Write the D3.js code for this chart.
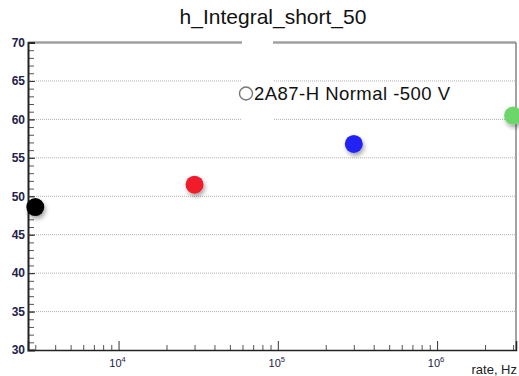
<!DOCTYPE html>
<html>
<head>
<meta charset="utf-8">
<script src="https://cdn.jsdelivr.net/npm/d3@7"></script>
<style>
  html, body { margin: 0; padding: 0; background: #fff; }
  svg { display: block; font-family: "Liberation Sans", Arial, Helvetica, sans-serif; }
</style>
</head>
<body>
<svg id="chart" width="519" height="376"></svg>
<script>
// Measured rates (Hz) and integral values
const rates = [3000, 30000, 300000, 3000000];
const integrals = [48.6, 51.5, 56.8, 60.5];
const pointColors = ["#000000", "#f01a2c", "#2323f5", "#6cd66a"];
const yTicks = [30, 35, 40, 45, 50, 55, 60, 65, 70];
const xDecades = [4, 5, 6];
const chartTitle = "h_Integral_short_50";
const legendLabel = "2A87-H Normal -500 V";
const xTitle = "rate, Hz";

const svg = d3.select("#chart");
const plotLeft = 28, plotRight = 516, plotTop = 42.5, plotBottom = 350;

const x = d3.scaleLog().domain([2700, 3130000]).range([plotLeft, plotRight]);
const y = d3.scaleLinear().domain([30, 70]).range([plotBottom, plotTop]);

// soft drop shadow under the markers
const defs = svg.append("defs");
const f = defs.append("filter").attr("id", "shadow")
  .attr("x", "-50%").attr("y", "-50%").attr("width", "200%").attr("height", "200%");
f.append("feDropShadow").attr("dx", 1.5).attr("dy", 3).attr("stdDeviation", 2)
  .attr("flood-color", "#000").attr("flood-opacity", 0.35);

// title
svg.append("text").attr("x", 273).attr("y", 24).attr("text-anchor", "middle")
  .attr("font-size", 21).attr("fill", "#111").text(chartTitle);

// horizontal dotted grid
svg.append("g").selectAll("line").data(yTicks.filter(v => v > 30 && v < 70)).join("line")
  .attr("x1", plotLeft).attr("x2", plotRight)
  .attr("y1", d => y(d)).attr("y2", d => y(d))
  .attr("stroke", "#b0b0b0").attr("stroke-width", 1).attr("stroke-dasharray", "1,1");

// top edge (grey) and right edge
svg.append("line").attr("x1", plotLeft).attr("x2", plotRight).attr("y1", y(70)).attr("y2", y(70))
  .attr("stroke", "#a0a0a0").attr("stroke-width", 2.5);
svg.append("line").attr("x1", plotRight).attr("x2", plotRight).attr("y1", y(70)).attr("y2", y(30))
  .attr("stroke", "#666").attr("stroke-width", 1.2);

// y axis: major + minor ticks pointing inward
const yMinor = d3.range(30, 71, 1);
svg.append("g").attr("transform", `translate(${plotLeft},0)`)
  .call(d3.axisLeft(y).tickValues(yMinor).tickSize(-6).tickFormat(""))
  .call(g => g.select(".domain").remove())
  .call(g => g.selectAll("line").attr("stroke", "#555"));
const yAxisG = svg.append("g").attr("transform", `translate(${plotLeft},0)`)
  .call(d3.axisLeft(y).tickValues(yTicks).tickSize(-7).tickPadding(3).tickFormat(d3.format("d")));
yAxisG.select(".domain").attr("stroke", "#222").attr("stroke-width", 2);
yAxisG.selectAll(".tick line").attr("stroke", "#333");
yAxisG.selectAll(".tick text").attr("font-size", 12).attr("font-weight", "bold").attr("fill", "#22224a")
  .attr("font-family", "\"Liberation Sans\", Arial, sans-serif");

// x axis: log ticks pointing inward
const xMajor = xDecades.map(e => Math.pow(10, e));
const xMinor = [];
for (let e = 3; e <= 6; e++) for (let m = 2; m <= 9; m++) {
  const v = m * Math.pow(10, e);
  if (v >= x.domain()[0] && v <= x.domain()[1]) xMinor.push(v);
}
svg.append("g").attr("transform", `translate(0,${plotBottom})`)
  .call(d3.axisBottom(x).tickValues(xMinor).tickSize(-5).tickFormat(""))
  .call(g => g.select(".domain").remove())
  .call(g => g.selectAll("line").attr("stroke", "#555"));
const xAxisG = svg.append("g").attr("transform", `translate(0,${plotBottom})`)
  .call(d3.axisBottom(x).tickValues(xMajor).tickSize(-9).tickFormat(""));
xAxisG.select(".domain").attr("stroke", "#222").attr("stroke-width", 1.5);
xAxisG.selectAll(".tick line").attr("stroke", "#333");

// decade labels 10^n
const xl = svg.append("g").selectAll("text").data(xDecades).join("text")
  .attr("x", d => x(Math.pow(10, d)) - 1).attr("y", 367)
  .attr("text-anchor", "middle").attr("font-size", 11).attr("fill", "#22224a");
xl.append("tspan").text("10");
xl.append("tspan").attr("dy", -5).attr("font-size", 7.5).text(d => d);

// x axis title
svg.append("text").attr("x", 517).attr("y", 374).attr("text-anchor", "end")
  .attr("font-size", 13).attr("fill", "#222").text(xTitle);

// data markers
svg.append("g").selectAll("circle").data(rates).join("circle")
  .attr("cx", (d) => x(d)).attr("cy", (d, i) => y(integrals[i]))
  .attr("r", 9).attr("fill", (d, i) => pointColors[i])
  .attr("filter", "url(#shadow)");

// legend
svg.append("rect").attr("x", 242).attr("y", 38).attr("width", 31).attr("height", 84).attr("fill", "#fff");
svg.append("circle").attr("cx", 246).attr("cy", 93.5).attr("r", 6.5)
  .attr("fill", "none").attr("stroke", "#777").attr("stroke-width", 1.4);
svg.append("text").attr("x", 254).attr("y", 99.5).attr("font-size", 18.5).attr("fill", "#111")
  .attr("textLength", 196).text(legendLabel);
</script>
</body>
</html>
